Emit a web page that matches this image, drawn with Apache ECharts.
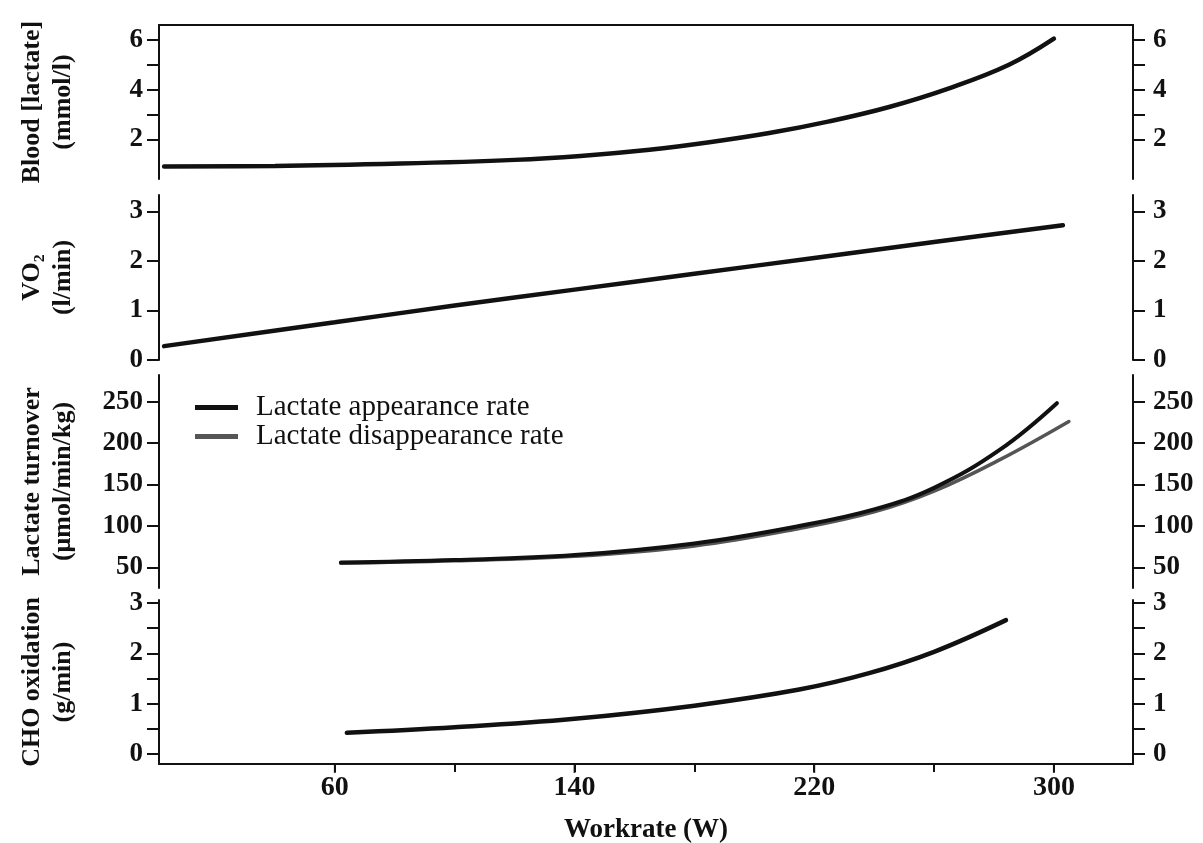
<!DOCTYPE html>
<html>
<head>
<meta charset="utf-8">
<script src="https://cdn.jsdelivr.net/npm/echarts@6/dist/echarts.min.js"></script>
<style>
  html, body { margin: 0; padding: 0; background: #fff; }
  #main { width: 1203px; height: 843px; }
</style>
</head>
<body>
<div id="main"></div>
<script>
// workrate (W) and values
var lactateW = [3, 40, 82, 120, 142, 165, 185, 205, 225, 245, 265, 285, 300];
var lactateVal = [0.9, 0.92, 1.02, 1.17, 1.33, 1.58, 1.88, 2.25, 2.72, 3.3, 4.05, 5.0, 6.05];

var vo2W = [3, 60, 100, 140, 180, 220, 260, 303];
var vo2Val = [0.28, 0.76, 1.1, 1.42, 1.74, 2.06, 2.38, 2.72];

var raW = [62, 100, 140, 180, 215, 240, 260, 282, 301];
var raVal = [56, 59, 65, 79, 100, 120, 146, 192, 248];

var rdW = [62, 100, 140, 180, 215, 240, 260, 282, 305];
var rdVal = [55, 58, 63.5, 76, 97, 117, 142, 180, 226];

var choW = [64, 100, 140, 180, 215, 238, 260, 284];
var choVal = [0.42, 0.53, 0.7, 0.96, 1.28, 1.6, 2.03, 2.66];

// tick labels
var xTicks = [60, 100, 140, 180, 220, 260, 300];
var xLabels = [60, 140, 220, 300];
var y1Ticks = [2, 3, 4, 5, 6];
var y1Labels = [2, 4, 6];
var y2Ticks = [0, 1, 2, 3];
var y3Ticks = [50, 100, 150, 200, 250];
var y4Ticks = [0, 0.5, 1, 1.5, 2, 2.5, 3];
var y4Labels = [0, 1, 2, 3];

var yNames = ['Blood [lactate]\n(mmol/l)', 'VO\u2082\n(l/min)', 'Lactate turnover\n(\u03bcmol/min/kg)', 'CHO oxidation\n(g/min)'];
var legendNames = ['Lactate appearance rate', 'Lactate disappearance rate'];

function zip(xs, ys) {
  var out = [];
  for (var i = 0; i < xs.length; i++) out.push([xs[i], ys[i]]);
  return out;
}

var FONT = 'Liberation Serif';
var INK = '#111';
var X_MIN = 1.3, X_MAX = 326.4;

// fixed pixel boxes, no auto shrinking for labels
var grids = [
  { left: 159, right: 70, top: 25, height: 154, outerBoundsMode: 'none', containLabel: false },
  { left: 159, right: 70, top: 195, height: 165, outerBoundsMode: 'none', containLabel: false },
  { left: 159, right: 70, top: 375, height: 213, outerBoundsMode: 'none', containLabel: false },
  { left: 159, right: 70, top: 600, height: 164, outerBoundsMode: 'none', containLabel: false }
];

var yRanges = [
  { min: 0.4, max: 6.6, ticks: y1Ticks, labels: y1Labels },
  { min: 0, max: 3.33, ticks: y2Ticks, labels: y2Ticks },
  { min: 25.3, max: 282, ticks: y3Ticks, labels: y3Ticks },
  { min: -0.2, max: 3.06, ticks: y4Ticks, labels: y4Labels }
];

var xAxes = [];
for (var i = 0; i < 4; i++) {
  var last = (i == 3);
  xAxes.push({
    type: 'value',
    gridIndex: i,
    min: X_MIN,
    max: X_MAX,
    position: i == 0 ? 'top' : 'bottom',
    show: i == 0 || last,
    name: last ? 'Workrate (W)' : '',
    nameLocation: 'middle',
    nameGap: 53,
    nameTextStyle: { fontFamily: FONT, fontWeight: 'bold', fontSize: 27, color: INK },
    splitLine: { show: false },
    axisLine: { show: true, onZero: false, lineStyle: { color: INK, width: 2 } },
    axisTick: { show: last, length: 8, lineStyle: { color: INK, width: 2 }, customValues: xTicks },
    axisLabel: {
      show: last, margin: 10, fontFamily: FONT, fontWeight: 'bold', fontSize: 28, color: INK,
      customValues: xTicks,
      formatter: function (v) { return xLabels.indexOf(v) >= 0 ? String(v) : ''; }
    }
  });
}

var yAxes = [];
// left axes
for (var i = 0; i < 4; i++) {
  yAxes.push({
    type: 'value',
    gridIndex: i,
    position: 'left',
    min: yRanges[i].min,
    max: yRanges[i].max,
    name: yNames[i],
    nameLocation: 'middle',
    nameGap: 80,
    nameTextStyle: { fontFamily: FONT, fontWeight: 'bold', fontSize: 26, lineHeight: 31, color: INK },
    splitLine: { show: false },
    axisLine: { show: true, onZero: false, lineStyle: { color: INK, width: 2 } },
    axisTick: { show: true, length: 12, lineStyle: { color: INK, width: 2 }, customValues: yRanges[i].ticks },
    axisLabel: { margin: 16, fontFamily: FONT, fontWeight: 'bold', fontSize: 27, color: INK, customValues: yRanges[i].labels }
  });
}
// right axes, same scales
for (var i = 0; i < 4; i++) {
  yAxes.push({
    type: 'value',
    gridIndex: i,
    position: 'right',
    min: yRanges[i].min,
    max: yRanges[i].max,
    splitLine: { show: false },
    axisLine: { show: true, onZero: false, lineStyle: { color: INK, width: 2 } },
    axisTick: { show: true, length: 12, lineStyle: { color: INK, width: 2 }, customValues: yRanges[i].ticks },
    axisLabel: { margin: 20, fontFamily: FONT, fontWeight: 'bold', fontSize: 27, color: INK, customValues: yRanges[i].labels }
  });
}

function curve(name, idx, data, color, width) {
  return {
    name: name,
    type: 'line',
    xAxisIndex: idx,
    yAxisIndex: idx,
    data: data,
    smooth: 0.4,
    symbol: 'none',
    silent: true,
    animation: false,
    lineStyle: { color: color, width: width, cap: 'round' },
    itemStyle: { color: color }
  };
}

// major x ticks under the labelled values, hung below the bottom axis line
var majorTickMarks = xLabels.map(function (v) { return [v, yRanges[3].min]; });

var option = {
  backgroundColor: '#fff',
  grid: grids,
  xAxis: xAxes,
  yAxis: yAxes,
  legend: {
    left: 190,
    top: 388,
    orient: 'vertical',
    itemWidth: 43,
    itemHeight: 5,
    itemGap: 0,
    icon: 'rect',
    selectedMode: false,
    data: legendNames,
    textStyle: { fontFamily: FONT, fontSize: 29, lineHeight: 29, color: INK, padding: [0, 0, 0, 13] }
  },
  series: [
    curve('blood', 0, zip(lactateW, lactateVal), INK, 4.5),
    curve('vo2', 1, zip(vo2W, vo2Val), INK, 4.5),
    curve(legendNames[1], 2, zip(rdW, rdVal), '#555', 3.5),
    curve(legendNames[0], 2, zip(raW, raVal), INK, 4),
    curve('cho', 3, zip(choW, choVal), INK, 4.5),
    {
      name: 'ticks',
      type: 'scatter',
      xAxisIndex: 3,
      yAxisIndex: 3,
      data: majorTickMarks,
      symbol: 'rect',
      symbolSize: [2, 9],
      symbolOffset: [0, 4.5],
      clip: false,
      silent: true,
      animation: false,
      itemStyle: { color: INK }
    }
  ]
};

var chart = echarts.init(document.getElementById('main'));
chart.setOption(option);
</script>
</body>
</html>
